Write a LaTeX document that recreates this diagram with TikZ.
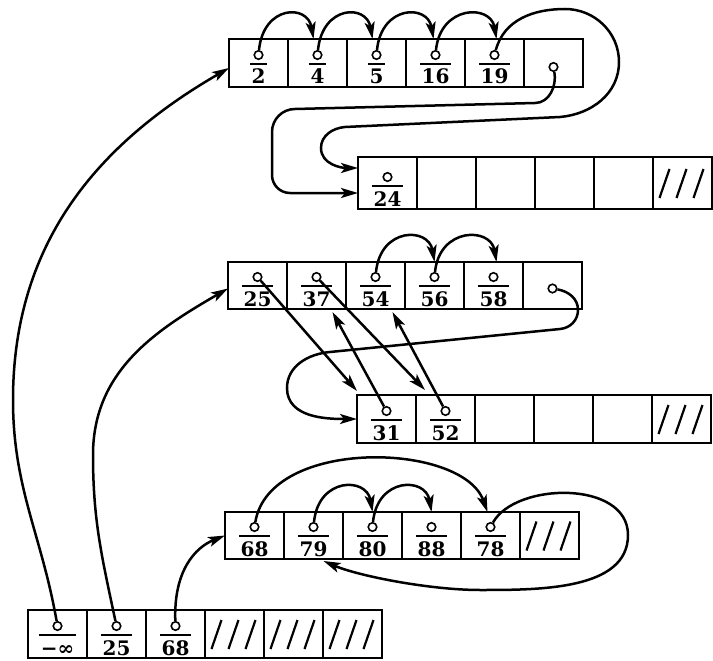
\documentclass[tikz,border=0pt]{standalone}
\usepackage{fontspec}
\setmainfont{DejaVu Serif}
\usepackage{tikz}
\usetikzlibrary{arrows.meta, positioning}

% a cell holding a key: pointer circle, bar, number
\newcommand{\keycell}[2]{%
  \node[ptr] (#1o) at ([yshift=32pt]#1.south) {};
  \node[keynum] (#1k) at ([yshift=3pt]#1.south) {#2};
  \coordinate (#1b) at ([yshift=23pt]#1.south);
  \draw[keybar] (#1k.west |- #1b) -- (#1k.east |- #1b);
}
% an unused cell
\newcommand{\nilcell}[1]{%
  \foreach \d in {0,17,34}
    \draw[nilslash] ([shift={({\d-23},-15)}]#1.center) -- ++(10,29);
}

\begin{document}
\begin{tikzpicture}[x=1pt, y=1pt,
    cellbox/.style={draw, line width=2.2pt, minimum width=59pt, inner sep=0pt, outer sep=0pt},
    ptr/.style={circle, draw, line width=1.6pt, minimum size=8.5pt, inner sep=0pt, fill=white},
    keynum/.style={anchor=base, inner xsep=1.5pt, inner ysep=0pt,
      font=\fontsize{20}{20}\selectfont\bfseries},
    keybar/.style={line width=2pt},
    nilslash/.style={line width=2.2pt},
    link/.style={line width=2.5pt, -{Stealth[length=17pt,width=10pt,inset=4pt]}}]
  \useasboundingbox (0,0) rectangle (713,-661);

  % the six rows of cells
  \foreach \r/\x/\y/\h in {1/229/39/48, 2/358/157/52, 3/228/262/47,
                           4/357/395/48, 5/225/512/47, 6/28/610/48}
    \foreach \c in {1,...,6}
      \node[cellbox, minimum height=\h pt] (r\r-\c) at ({\x+59*\c-29.5},{-\y-\h/2}) {};

  % contents
  \keycell{r1-1}{2}
  \keycell{r1-2}{4}
  \keycell{r1-3}{5}
  \keycell{r1-4}{16}
  \keycell{r1-5}{19}
  \node[ptr] (r1-6o) at ([yshift=-4pt]r1-6.center) {};

  \keycell{r2-1}{24}
  \nilcell{r2-6}

  \keycell{r3-1}{25}
  \keycell{r3-2}{37}
  \keycell{r3-3}{54}
  \keycell{r3-4}{56}
  \keycell{r3-5}{58}
  \node[ptr] (r3-6o) at ([yshift=-3pt]r3-6.center) {};

  \keycell{r4-1}{31}
  \keycell{r4-2}{52}
  \nilcell{r4-6}

  \keycell{r5-1}{68}
  \keycell{r5-2}{79}
  \keycell{r5-3}{80}
  \keycell{r5-4}{88}
  \keycell{r5-5}{78}
  \nilcell{r5-6}

  \keycell{r6-1}{−∞}
  \keycell{r6-2}{25}
  \keycell{r6-3}{68}
  \nilcell{r6-4}
  \nilcell{r6-5}
  \nilcell{r6-6}

  % top row
  \draw[link] (r1-1o) .. controls +(5,50) and +(-6,35) .. ([xshift=-4pt]r1-2.north);
  \draw[link] (r1-2o) .. controls +(5,50) and +(-6,35) .. ([xshift=-4pt]r1-3.north);
  \draw[link] (r1-3o) .. controls +(5,50) and +(-6,35) .. ([xshift=-2pt]r1-4.north);
  \draw[link] (r1-4o) .. controls +(5,50) and +(-6,35) .. ([xshift=2pt]r1-5.north);
  \draw[link] (r1-5o) to[out=75,in=180] (565,-9) to[out=0,in=90] (619,-62)
    to[out=-90,in=5] (560,-117) -- (345,-127) to[out=185,in=90] (321,-148)
    to[out=-90,in=180] ([yshift=15pt]r2-1.west);
  \draw[link] (r1-6o) to[out=-80,in=0] (535,-103) -- (295,-109)
    to[out=180,in=90] (272,-132) -- (272,-175) to[out=-90,in=180] (290,-193)
    -- ([yshift=-10pt]r2-1.west);

  % middle row
  \draw[link] (r3-3o) .. controls +(5,50) and +(-6,35) .. (r3-4.north);
  \draw[link] (r3-4o) .. controls +(5,50) and +(-6,35) .. ([xshift=3pt]r3-5.north);
  \draw[link] (r3-1o) -- ([yshift=4pt]r4-1.north west);
  \draw[link] (r3-2o) -- ([shift={(9pt,5pt)}]r4-2.north west);
  \draw[link] (r4-1o) -- ([shift={(16pt,-3pt)}]r3-2.south);
  \draw[link] (r4-2o) -- ([shift={(17pt,-3pt)}]r3-3.south);
  \draw[link] (r3-6o) to[out=-10,in=90] (578,-310) to[out=-90,in=5] (560,-329)
    -- (330,-352) to[out=185,in=90] (287,-388) to[out=-90,in=180] (r4-1.west);

  % lower row
  \draw[link] (r5-1o) .. controls +(15,90) and +(-25,70) .. ([xshift=-3pt]r5-5.north);
  \draw[link] (r5-2o) .. controls +(5,50) and +(-6,35) .. (r5-3.north);
  \draw[link] (r5-3o) .. controls +(5,50) and +(-6,35) .. (r5-4.north);
  \draw[link] (r5-5o) .. controls +(25,45) and +(0,55) .. (628,-535)
    .. controls +(0,-55) and +(60,0) .. (480,-590)
    .. controls +(-50,0) and +(35,-15) .. ([shift={(10pt,-2pt)}]r5-2.south);

  % heads
  \draw[link] (r6-1o) to[out=100,in=-90] (13,-400) to[out=90,in=210] ([yshift=-5pt]r1-1.west);
  \draw[link] (r6-2o) to[out=102,in=-90] (93,-455) to[out=90,in=210] ([yshift=-3pt]r3-1.west);
  \draw[link] (r6-3o) .. controls +(-2,55) and +(-30,-12) .. (r5-1.west);
\end{tikzpicture}
\end{document}
